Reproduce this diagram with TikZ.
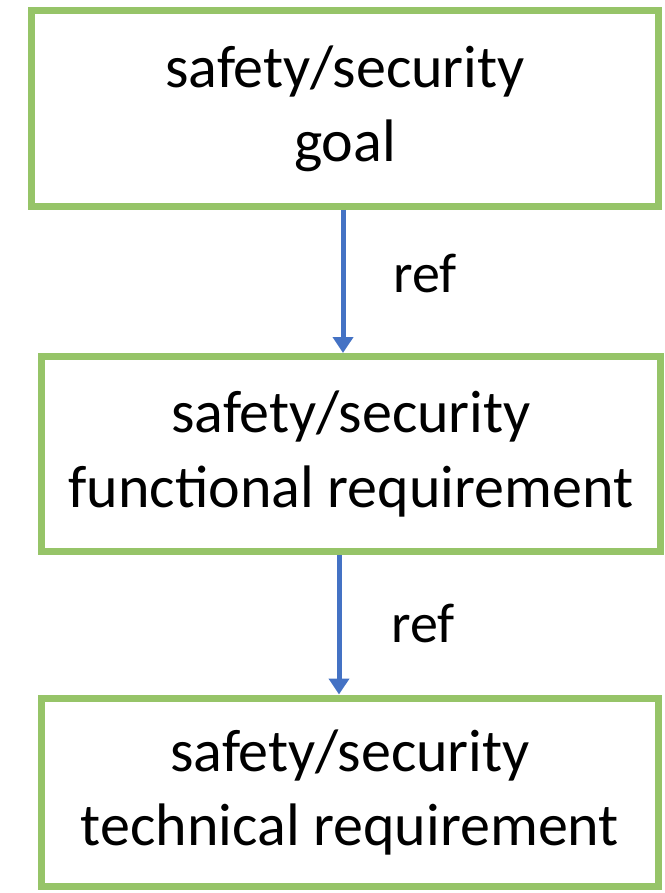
\documentclass[tikz,border=0pt]{standalone}
\usepackage{fontspec}
\setmainfont{Carlito}
\usetikzlibrary{arrows.meta}
\definecolor{boxgreen}{RGB}{150,196,104}
\definecolor{refblue}{RGB}{68,114,196}
\begin{document}
\begin{tikzpicture}[x=1pt,y=-1pt,
  reqbox/.style={draw=boxgreen, line width=7pt, fill=white, align=center,
    inner sep=0pt, font=\fontsize{60}{74}\selectfont},
  refarrow/.style={draw=refblue, line width=5pt,
    -{Triangle[width=20pt,length=16pt]}},
  reflabel/.style={font=\fontsize{56}{66}\selectfont}]
  \useasboundingbox (0,0) rectangle (664,893);
  % the three requirement levels
  \node[reqbox, minimum width=627pt, minimum height=196pt] (goal) at (345,108.5)
    {safety/security\\goal};
  \node[reqbox, minimum width=619pt, minimum height=195pt] (func) at (351,454)
    {safety/security\\functional requirement};
  \node[reqbox, minimum width=617pt, minimum height=188pt] (tech) at (350,792)
    {safety/security\\technical requirement};
  % refinement links
  \coordinate (a1) at (343,0);
  \coordinate (a2) at (339,0);
  \draw[refarrow] (goal.south -| a1) -- (func.north -| a1);
  \draw[refarrow] (func.south -| a2) -- (tech.north -| a2);
  \node[reflabel] (r1) at (425,273) {ref};
  \node[reflabel] (r2) at (423,623) {ref};
\end{tikzpicture}
\end{document}
